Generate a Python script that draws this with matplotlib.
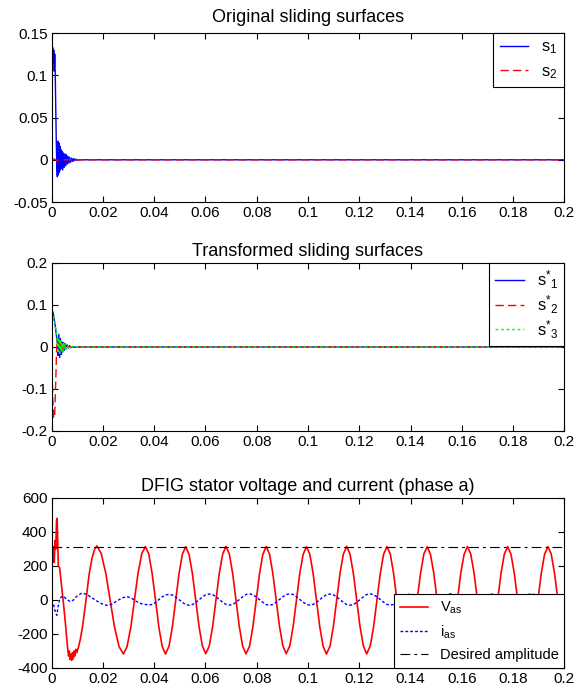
import matplotlib
matplotlib.use('Agg')
import matplotlib.pyplot as plt

plt.rcParams['font.family'] = ['Liberation Sans', 'DejaVu Sans']
plt.rcParams['lines.scale_dashes'] = False

# ---- panel 1 : original sliding surfaces ----
t_s1 = [0, 0.0002, 0.0004, 0.0006, 0.0008, 0.0010, 0.0012, 0.0014, 0.0016, 0.0018,
        0.0020, 0.0022, 0.0024, 0.0026, 0.0028, 0.0030, 0.0032, 0.0034, 0.0036, 0.0038,
        0.0040, 0.0043, 0.0046, 0.0049, 0.0052, 0.0055, 0.0058, 0.0061, 0.0064, 0.0067,
        0.0070, 0.0074, 0.0078, 0.0082, 0.0086, 0.0090, 0.0095, 0.0100, 0.0110, 0.2]
s1 = [0, 0.12, 0.133, 0.115, 0.13, 0.105, 0.125, 0.10, 0.06, 0.02,
      -0.005, -0.02, 0.022, -0.018, 0.02, -0.015, 0.016, -0.012, 0.012, -0.01,
      0.01, -0.012, 0.008, -0.009, 0.007, -0.007, 0.006, -0.005, 0.004, -0.004,
      0.003, -0.003, 0.002, -0.002, 0.0015, -0.001, 0.0008, -0.0005, 0, 0]
t_s2 = [0, 0.0010, 0.0020, 0.0030, 0.2]
s2 = [0, 0.001, -0.001, 0, 0]

# ---- panel 2 : transformed sliding surfaces ----
t_st = [0, 0.0002, 0.0006, 0.0010, 0.0014, 0.0018, 0.0022, 0.0025, 0.0028, 0.0031,
        0.0034, 0.0037, 0.0040, 0.0043, 0.0046, 0.0049, 0.0052, 0.0056, 0.0060, 0.0065,
        0.0070, 0.0075, 0.0080, 0.0090, 0.0100, 0.2]
st1 = [0.06, 0.088, 0.08, 0.065, 0.05, 0.03, 0.01, -0.02, 0.03, -0.025,
       0.02, -0.018, 0.012, -0.012, 0.01, -0.008, 0.008, -0.005, 0.005, -0.003,
       0.003, -0.002, 0.001, -0.001, 0, 0]
st3 = [0.07, 0.085, 0.078, 0.066, 0.05, 0.032, 0.012, -0.015, 0.022, -0.02,
       0.018, -0.012, 0.01, -0.01, 0.008, -0.006, 0.006, -0.004, 0.004, -0.002,
       0.002, -0.001, 0.001, -0.0005, 0, 0]
t_st2 = [0, 0.0004, 0.0008, 0.0012, 0.0016, 0.0019, 0.0022, 0.0026, 0.0030, 0.0034,
         0.0038, 0.0042, 0.0048, 0.0055, 0.0065, 0.0080, 0.2]
st2 = [0, -0.12, -0.17, -0.16, -0.08, -0.01, 0.02, 0.005, 0.015, -0.005,
       0.008, -0.004, 0.004, -0.002, 0.001, 0, 0]

# ---- panel 3 : stator voltage and current ----
t_v_start = [0.0000, 0.0003, 0.0007, 0.0010, 0.0013, 0.0016, 0.0019, 0.0021, 0.0023, 0.0026,
             0.0031, 0.0036, 0.0046, 0.0055, 0.0062, 0.0066, 0.0069, 0.0072, 0.0075, 0.0078,
             0.0081, 0.0084, 0.0087, 0.0090, 0.0094, 0.0098, 0.0104, 0.0112, 0.0121, 0.0134,
             0.0146, 0.0158, 0.0168, 0.0176, 0.0193, 0.0211, 0.0228, 0.0245, 0.0263, 0.0280,
             0.0294, 0.0309, 0.0323, 0.0337, 0.0352]
v_start = [110, 320, 300, 220, 350, 300, 470, 480, 380, 200,
           190, 120, -20, -160, -280, -330, -300, -350, -320, -355,
           -310, -345, -300, -330, -290, -310, -280, -230, -150, 0,
           150, 250, 300, 318, 275, 158, 0, -158, -275, -318,
           -275, -158, 0, 158, 275]

t_steady = [0.0366, 0.0379, 0.0392, 0.0405, 0.0418, 0.0431, 0.0444, 0.0458, 0.0471, 0.0484, 0.0497, 0.0510,
            0.0523, 0.0536, 0.0549, 0.0562, 0.0575, 0.0588, 0.0601, 0.0615, 0.0628, 0.0641, 0.0654, 0.0667,
            0.0680, 0.0693, 0.0706, 0.0719, 0.0732, 0.0745, 0.0758, 0.0772, 0.0785, 0.0798, 0.0811, 0.0824,
            0.0837, 0.0850, 0.0863, 0.0876, 0.0889, 0.0902, 0.0915, 0.0929, 0.0942, 0.0955, 0.0968, 0.0981,
            0.0994, 0.1007, 0.1020, 0.1033, 0.1046, 0.1059, 0.1072, 0.1086, 0.1099, 0.1112, 0.1125, 0.1138,
            0.1151, 0.1164, 0.1177, 0.1190, 0.1203, 0.1216, 0.1229, 0.1243, 0.1256, 0.1269, 0.1282, 0.1295,
            0.1308, 0.1321, 0.1334, 0.1347, 0.1360, 0.1373, 0.1386, 0.1400, 0.1413, 0.1426, 0.1439, 0.1452,
            0.1465, 0.1478, 0.1491, 0.1504, 0.1517, 0.1530, 0.1543, 0.1557, 0.1570, 0.1583, 0.1596, 0.1609,
            0.1622, 0.1635, 0.1648, 0.1661, 0.1674, 0.1687, 0.1700, 0.1714, 0.1727, 0.1740, 0.1753, 0.1766,
            0.1779, 0.1792, 0.1805, 0.1818, 0.1831, 0.1844, 0.1857, 0.1871, 0.1884, 0.1897, 0.1910, 0.1923,
            0.1936, 0.1949, 0.1962, 0.1975, 0.1988, 0.2000]
v_steady = [314, 270, 155, 2, -158, -272, -318, -271, -157, 0, 156, 270,
            313, 268, 156, -1, -157, -270, -316, -270, -156, 1, 157, 269,
            315, 271, 157, 0, -156, -271, -317, -272, -158, -1, 155, 270,
            314, 269, 155, 1, -157, -270, -316, -270, -157, 0, 156, 268,
            313, 270, 156, -1, -158, -272, -318, -271, -156, 1, 157, 270,
            315, 269, 157, 0, -156, -270, -317, -270, -157, 0, 155, 269,
            314, 271, 156, 1, -157, -271, -316, -272, -156, -1, 156, 270,
            313, 268, 155, 0, -158, -270, -318, -270, -157, 1, 157, 268,
            315, 270, 157, -1, -156, -272, -317, -271, -158, 0, 156, 270,
            314, 269, 156, 0, -157, -270, -316, -270, -156, 1, 155, 269,
            314, 270, 156, 0, -157, -265]

t_i_start = [0, 0.0008, 0.0015, 0.0020, 0.0025, 0.0032, 0.0044, 0.0058, 0.0072, 0.0085,
             0.0100, 0.0117, 0.0135, 0.0155, 0.0175, 0.0195, 0.0215, 0.0235, 0.0255, 0.0275,
             0.0293, 0.0310, 0.0330, 0.0350]
i_start = [0, -30, -75, -90, -40, 10, 24, 5, -10, 0,
           25, 40, 35, 15, -5, -22, -32, -25, -5, 12,
           20, 12, -8, -22]
i_steady = [-26, -30, -26, -14, 2, 18, 30, 33, 29, 17, 2, -14,
            -27, -31, -27, -15, 1, 18, 31, 35, 31, 19, 3, -13,
            -26, -30, -27, -14, 2, 19, 32, 36, 31, 18, 2, -14,
            -27, -31, -26, -13, 3, 19, 32, 36, 32, 19, 3, -13,
            -26, -30, -26, -14, 2, 18, 31, 35, 31, 18, 2, -14,
            -27, -31, -27, -14, 2, 19, 32, 36, 31, 18, 3, -13,
            -26, -30, -26, -14, 2, 18, 31, 35, 30, 18, 2, -14,
            -27, -31, -26, -13, 3, 19, 32, 36, 31, 19, 3, -13,
            -26, -30, -27, -14, 2, 18, 31, 35, 31, 18, 2, -14,
            -27, -31, -26, -14, 2, 19, 32, 36, 31, 18, 3, -13,
            -26, -30, -26, -14, 2, 18]

t_des = [0, 0.2]
v_des = [311, 311]

# ---- axes / labels ----
titles = ['Original sliding surfaces', 'Transformed sliding surfaces',
          'DFIG stator voltage and current (phase a)']
x_ticks = [0, 0.02, 0.04, 0.06, 0.08, 0.1, 0.12, 0.14, 0.16, 0.18, 0.2]
x_labels = ['0', '0.02', '0.04', '0.06', '0.08', '0.1', '0.12', '0.14', '0.16', '0.18', '0.2']
y1_ticks = [-0.05, 0, 0.05, 0.1, 0.15]
y1_labels = ['-0.05', '0', '0.05', '0.1', '0.15']
y2_ticks = [-0.2, -0.1, 0, 0.1, 0.2]
y2_labels = ['-0.2', '-0.1', '0', '0.1', '0.2']
y3_ticks = [-400, -200, 0, 200, 400, 600]
y3_labels = ['-400', '-200', '0', '200', '400', '600']

fig = plt.figure(figsize=(5.78, 6.90), dpi=100)
ax1 = fig.add_axes([0.0894, 0.7072, 0.8869, 0.2449])
ax2 = fig.add_axes([0.0894, 0.3754, 0.8869, 0.2435])
ax3 = fig.add_axes([0.0894, 0.0319, 0.8869, 0.2464])

ax1.plot(t_s1, s1, color='#0000ff', lw=1.0, label=r'$\mathregular{s_1}$')
ax1.plot(t_s2, s2, color='#ff0000', lw=1.0, linestyle=(0, (6, 3)), label=r'$\mathregular{s_2}$')

ax2.plot(t_st, st1, color='#0000ff', lw=1.0, label=r'$\mathregular{s^{*}{}_{1}}$')
ax2.plot(t_st2, st2, color='#ff0000', lw=1.0, linestyle=(0, (6, 3)), label=r'$\mathregular{s^{*}{}_{2}}$')
ax2.plot(t_st, st3, color='#00ff00', lw=1.0, linestyle=(0, (2, 2)), label=r'$\mathregular{s^{*}{}_{3}}$')

ax3.plot(t_v_start + t_steady, v_start + v_steady, color='#ff0000', lw=1.2,
         label=r'$\mathregular{V_{as}}$')
ax3.plot(t_i_start + t_steady, i_start + i_steady, color='#0000ff', lw=1.0,
         linestyle=(0, (2, 1.5)), label=r'$\mathregular{i_{as}}$')
ax3.plot(t_des, v_des, color='black', lw=0.8, linestyle=(0, (7, 3, 2, 3)),
         label='Desired amplitude')

for ax, title, yt, yl in [(ax1, titles[0], y1_ticks, y1_labels),
                          (ax2, titles[1], y2_ticks, y2_labels),
                          (ax3, titles[2], y3_ticks, y3_labels)]:
    ax.set_xlim(0, 0.2)
    ax.set_ylim(yt[0], yt[-1])
    ax.set_xticks(x_ticks)
    ax.set_xticklabels(x_labels)
    ax.set_yticks(yt)
    ax.set_yticklabels(yl)
    ax.tick_params(direction='in', top=True, right=True, length=4, width=0.8,
                   labelsize=11, pad=3)
    for sp in ax.spines.values():
        sp.set_linewidth(0.8)
    ax.set_title(title, fontsize=13, pad=5)
ax1.set_title(titles[0], fontsize=13, pad=8)

leg_kw = dict(fancybox=False, edgecolor='black', framealpha=1, borderaxespad=0)
l1 = ax1.legend(loc='upper right', fontsize=12, handlelength=1.7, labelspacing=0.45, **leg_kw)
l2 = ax2.legend(loc='upper right', fontsize=12, handlelength=1.7, labelspacing=0.12,
                borderpad=0.35, **leg_kw)
l3 = ax3.legend(loc='lower right', fontsize=10.5, handlelength=1.9, **leg_kw)
for lg in (l1, l2, l3):
    lg.get_frame().set_linewidth(0.8)

plt.savefig('out.png', dpi=100)
